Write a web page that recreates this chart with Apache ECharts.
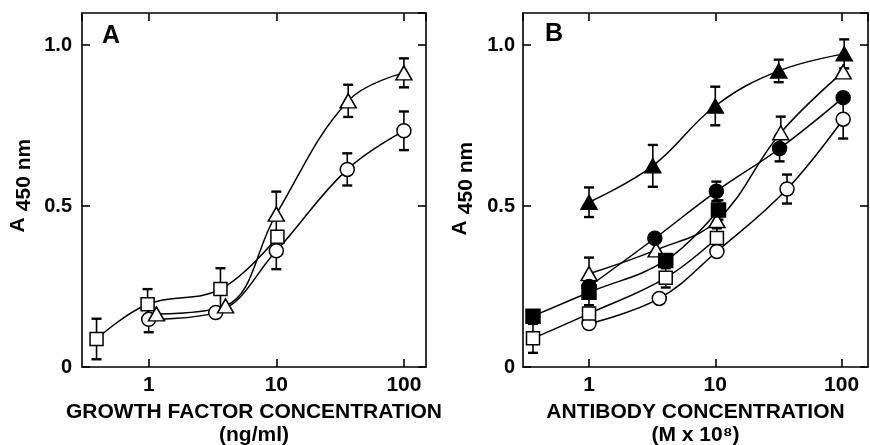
<!DOCTYPE html>
<html>
<head>
<meta charset="utf-8">
<script src="https://cdn.jsdelivr.net/npm/echarts@6/dist/echarts.min.js"></script>
<style>
  html, body { margin: 0; padding: 0; background: #fff; }
  #main { width: 870px; height: 445px; }
</style>
</head>
<body>
<div id="main"></div>
<script>
// panel A: growth factor concentration (ng/ml)
const aSquareX = [0.39, 0.98, 3.65, 10.2];
const aSquareY = [0.087, 0.195, 0.242, 0.405];
const aSquareE = [0.063, 0.047, 0.065, 0];

const aCircleX = [1, 3.35, 10, 36, 100];
const aCircleY = [0.148, 0.169, 0.361, 0.614, 0.734];
const aCircleE = [0.04, 0, 0.057, 0.05, 0.06];

const aTriX = [1.15, 4.0, 10, 36.6, 100];
const aTriY = [0.165, 0.19, 0.475, 0.827, 0.914];
const aTriE = [0, 0, 0.07, 0.05, 0.045];

// panel B: antibody concentration (M x 10^8)
const bFillTriX = [1, 3.2, 10, 31.8, 105];
const bFillTriY = [0.512, 0.625, 0.811, 0.92, 0.973];
const bFillTriE = [0.046, 0.065, 0.06, 0.035, 0.045];

const bOpenTriX = [1, 3.4, 10.3, 33, 103];
const bOpenTriY = [0.29, 0.364, 0.455, 0.728, 0.917];
const bOpenTriE = [0.05, 0, 0, 0.05, 0];

const bFillCircX = [1, 3.32, 10.2, 32.3, 103];
const bFillCircY = [0.25, 0.40, 0.546, 0.679, 0.837];
const bFillCircE = [0, 0, 0.03, 0.04, 0];

const bFillSqX = [0.36, 1, 4.05, 10.6];
const bFillSqY = [0.158, 0.232, 0.331, 0.488];
const bFillSqE = [0, 0.04, 0, 0.03];

const bOpenSqX = [0.36, 1, 4.05, 10.3];
const bOpenSqY = [0.089, 0.166, 0.277, 0.401];
const bOpenSqE = [0.045, 0, 0.03, 0.03];

const bOpenCircX = [1, 3.6, 10.3, 37, 103];
const bOpenCircY = [0.135, 0.213, 0.359, 0.553, 0.77];
const bOpenCircE = [0, 0, 0, 0.045, 0.06];

const xTicks = [1, 10, 100];
const yTicks = [0, 0.5, 1.0];

const FONT = 'Liberation Sans';
const chart = echarts.init(document.getElementById('main'));

function errRender(params, api) {
  const e = api.value(2);
  if (!e) return null;
  const x = api.value(0), y = api.value(1);
  const t = api.coord([x, y + e]);
  const b = api.coord([x, y - e]);
  const w = 5;
  const st = { stroke: '#000', lineWidth: 1.6 };
  const cap = { stroke: '#000', lineWidth: 2.4 };
  return {
    type: 'group',
    children: [
      { type: 'line', shape: { x1: t[0], y1: t[1], x2: b[0], y2: b[1] }, style: st },
      { type: 'line', shape: { x1: t[0] - w, y1: t[1], x2: t[0] + w, y2: t[1] }, style: cap },
      { type: 'line', shape: { x1: b[0] - w, y1: b[1], x2: b[0] + w, y2: b[1] }, style: cap }
    ]
  };
}

function makeSeries(xs, ys, es, symbol, size, filled, axis) {
  const pts = xs.map((x, i) => [x, ys[i]]);
  return [
    {
      type: 'custom',
      xAxisIndex: axis * 2,
      yAxisIndex: axis * 2,
      renderItem: errRender,
      encode: { x: 0, y: 1 },
      data: xs.map((x, i) => [x, ys[i], es[i]]),
      z: 1,
      silent: true
    },
    {
      type: 'line',
      xAxisIndex: axis * 2,
      yAxisIndex: axis * 2,
      data: pts,
      smooth: 0.4,
      symbol: symbol,
      symbolSize: size,
      showAllSymbol: true,
      lineStyle: { color: '#000', width: 1.5 },
      itemStyle: { color: filled ? '#000' : '#fff', borderColor: '#000', borderWidth: 1.5 },
      z: 3,
      animation: false
    }
  ];
}

function xAxes(grid, min, max, showLabels, pos) {
  return {
    type: 'log',
    logBase: 10,
    gridIndex: grid,
    position: pos,
    min: min,
    max: max,
    axisLine: { show: true, onZero: false, lineStyle: { color: '#000', width: 1.6 } },
    axisTick: { show: true, inside: true, length: 8, lineStyle: { color: '#000', width: 1.6 } },
    minorTick: { show: false },
    splitLine: { show: false },
    axisLabel: {
      show: showLabels,
      showMinLabel: false,
      showMaxLabel: false,
      margin: 8,
      color: '#000',
      fontSize: 21,
      fontWeight: 'bold',
      fontFamily: FONT,
      formatter: v => (xTicks.indexOf(Math.round(v)) >= 0 ? String(Math.round(v)) : '')
    }
  };
}

function yAxes(grid, showLabels, pos, margin) {
  return {
    type: 'value',
    gridIndex: grid,
    position: pos,
    min: 0,
    max: 1.1,
    interval: 0.5,
    axisLine: { show: true, lineStyle: { color: '#000', width: 1.6 } },
    axisTick: { show: true, inside: true, length: 8, lineStyle: { color: '#000', width: 1.6 } },
    splitLine: { show: false },
    axisLabel: {
      show: showLabels,
      showMaxLabel: false,
      margin: margin,
      color: '#000',
      fontSize: 20,
      fontWeight: 'bold',
      fontFamily: FONT,
      formatter: v => (v === 0 ? '0' : v.toFixed(1))
    }
  };
}

const xA = xAxes(0, 0.3, 149, true, 'bottom');
xA.name = 'GROWTH FACTOR CONCENTRATION\n(ng/ml)';
const xB = xAxes(1, 0.3, 162, true, 'bottom');
xB.name = 'ANTIBODY CONCENTRATION\n(M x 10⁸)';
[xA, xB].forEach(ax => {
  ax.nameLocation = 'middle';
  ax.nameGap = 29;
  ax.nameTextStyle = { color: '#000', fontSize: 21, fontWeight: 'bold', fontFamily: FONT, lineHeight: 23 };
});

function yTitle(x, y) {
  return [
    {
      type: 'text', x: x, y: y + 50, rotation: Math.PI / 2,
      style: { text: 'A', fontSize: 21, fontWeight: 'bold', fontFamily: FONT, fill: '#000', align: 'center', verticalAlign: 'middle' }
    },
    {
      type: 'text', x: x + 6, y: y, rotation: Math.PI / 2,
      style: { text: '450 nm', fontSize: 21, fontWeight: 'bold', fontFamily: FONT, fill: '#000', align: 'center', verticalAlign: 'middle' }
    }
  ];
}

const option = {
  animation: false,
  backgroundColor: '#fff',
  textStyle: { fontFamily: FONT },
  grid: [
    { left: 82, right: 444, top: 13, bottom: 78, outerBoundsMode: 'none' },
    { left: 523, right: 2, top: 13, bottom: 78, outerBoundsMode: 'none' }
  ],
  xAxis: [
    xA,
    xAxes(0, 0.3, 149, false, 'top'),
    xB,
    xAxes(1, 0.3, 162, false, 'top')
  ],
  yAxis: [
    yAxes(0, true, 'left', 10),
    yAxes(0, false, 'right', 8),
    yAxes(1, true, 'left', 8),
    yAxes(1, false, 'right', 8)
  ],
  graphic: [
    ...yTitle(18, 175),
    ...yTitle(460, 178),
    { type: 'text', x: 111, y: 36, style: { text: 'A', fontSize: 25, fontWeight: 'bold', fontFamily: FONT, fill: '#000', align: 'center', verticalAlign: 'middle' } },
    { type: 'text', x: 554, y: 34, style: { text: 'B', fontSize: 25, fontWeight: 'bold', fontFamily: FONT, fill: '#000', align: 'center', verticalAlign: 'middle' } }
  ],
  series: [
    ...makeSeries(aSquareX, aSquareY, aSquareE, 'rect', 13, false, 0),
    ...makeSeries(aCircleX, aCircleY, aCircleE, 'circle', 14, false, 0),
    ...makeSeries(aTriX, aTriY, aTriE, 'triangle', [16, 14], false, 0),
    ...makeSeries(bFillTriX, bFillTriY, bFillTriE, 'triangle', [16, 14], true, 1),
    ...makeSeries(bOpenCircX, bOpenCircY, bOpenCircE, 'circle', 14, false, 1),
    ...makeSeries(bOpenSqX, bOpenSqY, bOpenSqE, 'rect', 13, false, 1),
    ...makeSeries(bOpenTriX, bOpenTriY, bOpenTriE, 'triangle', [16, 14], false, 1),
    ...makeSeries(bFillSqX, bFillSqY, bFillSqE, 'rect', 14, true, 1),
    ...makeSeries(bFillCircX, bFillCircY, bFillCircE, 'circle', 14, true, 1)
  ]
};

chart.setOption(option);
</script>
</body>
</html>
